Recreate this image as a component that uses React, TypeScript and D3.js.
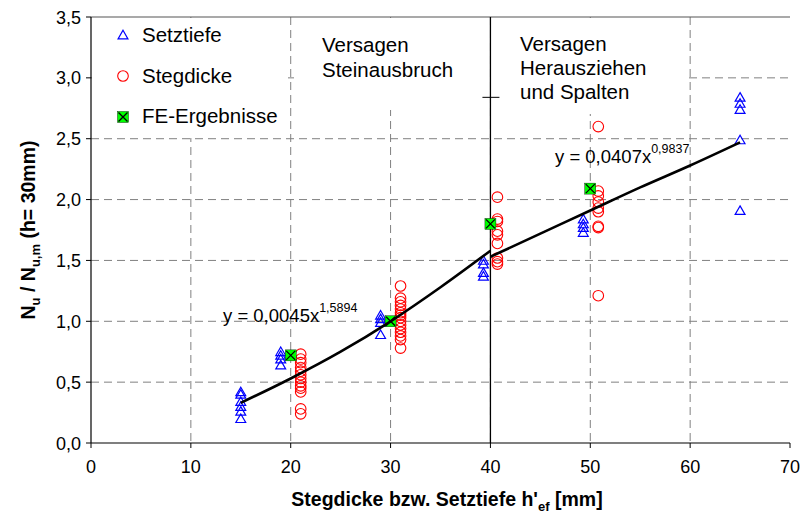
import React from "react"
import * as d3 from "d3"

// Setztiefe (blue triangles): [h'ef, Nu/Nu,m]
const setztiefe: [number, number][] = [
  [15, 0.42], [15, 0.4], [15, 0.34], [15, 0.3], [15, 0.26], [15, 0.2],
  [19, 0.75], [19, 0.72], [19, 0.69], [19, 0.64],
  [29, 1.05], [29, 1.02], [29, 0.99], [29, 0.89],
  [39.3, 1.5], [39.3, 1.47], [39.3, 1.4], [39.3, 1.37],
  [49.3, 1.84], [49.3, 1.8], [49.3, 1.77], [49.3, 1.73],
  [65, 2.84], [65, 2.79], [65, 2.74], [65, 2.49], [65, 1.91],
]

// Stegdicke (red circles)
const stegdicke: [number, number][] = [
  [21, 0.73], [21, 0.69], [21, 0.66], [21, 0.62], [21, 0.59], [21, 0.56], [21, 0.53],
  [21, 0.5], [21, 0.47], [21, 0.45], [21, 0.42], [21, 0.28], [21, 0.24],
  [31, 1.29], [31, 1.19], [31, 1.16], [31, 1.13], [31, 1.1], [31, 1.07], [31, 1.05],
  [31, 1.03], [31, 1.0], [31, 0.97], [31, 0.94], [31, 0.91], [31, 0.88], [31, 0.85], [31, 0.78],
  [40.7, 2.02], [40.7, 1.84], [40.7, 1.82], [40.7, 1.74], [40.7, 1.71], [40.7, 1.64],
  [40.7, 1.52], [40.7, 1.49], [40.7, 1.47],
  [50.8, 2.6], [50.8, 2.07], [50.8, 2.03], [50.8, 1.98], [50.8, 1.93], [50.8, 1.9],
  [50.8, 1.78], [50.8, 1.77], [50.8, 1.21],
]

// FE-Ergebnisse (green squares)
const feErgebnisse: [number, number][] = [
  [20, 0.72], [30, 1.0], [40, 1.8], [50, 2.09],
]

// trend lines
const trendSteinausbruch: [number, number][] = [
  [15, 0.33], [20, 0.53], [25, 0.75], [30, 1.0], [35, 1.28], [40, 1.58],
]
const trendHerausziehen: [number, number][] = [
  [40, 1.53], [45, 1.72], [50, 1.91], [55, 2.1], [60, 2.28], [65, 2.47],
]

const xTicks = [0, 10, 20, 30, 40, 50, 60, 70]
const yTicks = [0, 0.5, 1, 1.5, 2, 2.5, 3, 3.5]
const boundaryX = 40
const boundaryMark = 2.84

const W = 803
const H = 517
const FONT = "'Liberation Sans', Arial, sans-serif"

export default function App() {
  const margin = { top: 17, right: 13, bottom: 74, left: 91 }
  const x = d3.scaleLinear().domain([0, 70]).range([margin.left, W - margin.right])
  const y = d3.scaleLinear().domain([0, 3.5]).range([H - margin.bottom, margin.top])
  const fmt = (v: number) => d3.format(".1f")(v).replace(".", ",")

  const line = d3
    .line<[number, number]>()
    .x((d) => x(d[0]))
    .y((d) => y(d[1]))
    .curve(d3.curveMonotoneX)

  const tri = d3.symbol(d3.symbolTriangle, 42)()!

  const triangle = (cx: number, cy: number, k: string) => (
    <path key={k} d={tri} transform={`translate(${cx},${cy + 1})`} fill="none" stroke="#0000ff" strokeWidth={1.2} />
  )
  const circle = (cx: number, cy: number, k: string) => (
    <circle key={k} cx={cx} cy={cy} r={5.3} fill="none" stroke="#ff0000" strokeWidth={1.1} />
  )
  const feMark = (cx: number, cy: number, k: string) => (
    <g key={k} transform={`translate(${cx},${cy})`}>
      <rect x={-5.5} y={-5.5} width={11} height={11} fill="#00ff00" stroke="#000" strokeWidth={0.4} />
      <path d="M-4.5,-4.5L4.5,4.5M-4.5,4.5L4.5,-4.5" stroke="#000" strokeWidth={1.3} />
    </g>
  )

  const grid = "#808080"
  const top = y(3.5)
  const bottom = y(0)

  return (
    <svg width={W} height={H} style={{ display: "block", fontFamily: FONT }}>
      <style>{`body{margin:0}`}</style>
      <rect width={W} height={H} fill="#fff" />

      {/* gridlines */}
      {yTicks.slice(1, -1).map((t) => (
        <line key={`gy${t}`} x1={x(0)} x2={x(70)} y1={y(t)} y2={y(t)} stroke={grid} strokeDasharray="8 5" />
      ))}
      {xTicks.slice(1, -1).map((t) => (
        <line key={`gx${t}`} x1={x(t)} x2={x(t)} y1={top} y2={bottom} stroke={grid} strokeDasharray="8 5" />
      ))}
      <line x1={x(0)} x2={x(70)} y1={top} y2={top} stroke="#555" strokeWidth={1.2} />

      {/* white label backgrounds */}
      <rect x={x(0) + 1} y={top + 1} width={196} height={120} fill="#fff" />
      <rect x={297} y={top + 1} width={x(40) - 298} height={92} fill="#fff" />
      <rect x={x(40) + 2} y={top + 1} width={196} height={96} fill="#fff" />

      {/* failure boundary */}
      <line x1={x(boundaryX)} x2={x(boundaryX)} y1={top} y2={bottom} stroke="#000" strokeWidth={1.3} />
      <line x1={x(boundaryX) - 8} x2={x(boundaryX) + 9} y1={y(boundaryMark)} y2={y(boundaryMark)} stroke="#000" strokeWidth={1} />

      {/* axes */}
      <line x1={x(0)} x2={x(0)} y1={top} y2={bottom} stroke="#000" strokeWidth={1.2} />
      <line x1={x(0)} x2={x(70)} y1={bottom} y2={bottom} stroke="#000" strokeWidth={1.2} />
      {yTicks.map((t) => (
        <g key={`ty${t}`}>
          <line x1={x(0) - 5} x2={x(0)} y1={y(t)} y2={y(t)} stroke="#000" />
          <text x={x(0) - 10} y={y(t) + 6.5} textAnchor="end" fontSize={18}>
            {fmt(t)}
          </text>
        </g>
      ))}
      {xTicks.map((t) => (
        <g key={`tx${t}`}>
          <line x1={x(t)} x2={x(t)} y1={bottom} y2={bottom + 5} stroke="#000" />
          <text x={x(t)} y={bottom + 30} textAnchor="middle" fontSize={18}>
            {t}
          </text>
        </g>
      ))}

      {/* data */}
      {setztiefe.map((d, i) => triangle(x(d[0]), y(d[1]), `s${i}`))}
      {stegdicke.map((d, i) => circle(x(d[0]), y(d[1]), `c${i}`))}
      {feErgebnisse.map((d, i) => feMark(x(d[0]), y(d[1]), `f${i}`))}
      <path d={line(trendSteinausbruch)!} fill="none" stroke="#000" strokeWidth={2.6} />
      <path d={line(trendHerausziehen)!} fill="none" stroke="#000" strokeWidth={2.6} />

      {/* legend */}
      {triangle(123, 35, "lg1")}
      <text x={142} y={42} fontSize={20.5}>Setztiefe</text>
      {circle(123, 76, "lg2")}
      <text x={142} y={83} fontSize={20.5}>Stegdicke</text>
      {feMark(123, 117, "lg3")}
      <text x={142} y={123} fontSize={20.5}>FE-Ergebnisse</text>

      {/* annotations */}
      <text fontSize={20.5}>
        <tspan x={322} y={52}>Versagen</tspan>
        <tspan x={322} y={77}>Steinausbruch</tspan>
      </text>
      <text fontSize={20.5}>
        <tspan x={520} y={51}>Versagen</tspan>
        <tspan x={520} y={75}>Herausziehen</tspan>
        <tspan x={520} y={99}>und Spalten</tspan>
      </text>
      <text x={223} y={322} fontSize={18.5}>
        y = 0,0045x<tspan dy={-10} fontSize={12.5}>1,5894</tspan>
      </text>
      <text x={555} y={163} fontSize={18.5}>
        y = 0,0407x<tspan dy={-10} fontSize={12.5}>0,9837</tspan>
      </text>

      {/* axis titles */}
      <text x={447} y={506} textAnchor="middle" fontSize={19.5} fontWeight="bold">
        Stegdicke bzw. Setztiefe h'<tspan dy={5} fontSize={13}>ef</tspan>
        <tspan dy={-5}> [mm]</tspan>
      </text>
      <text transform="translate(35,230) rotate(-90)" textAnchor="middle" fontSize={19.5} fontWeight="bold">
        N<tspan dy={5} fontSize={13}>u</tspan>
        <tspan dy={-5}> / N</tspan>
        <tspan dy={5} fontSize={13}>u,m</tspan>
        <tspan dy={-5}> (h= 30mm)</tspan>
      </text>
    </svg>
  )
}
